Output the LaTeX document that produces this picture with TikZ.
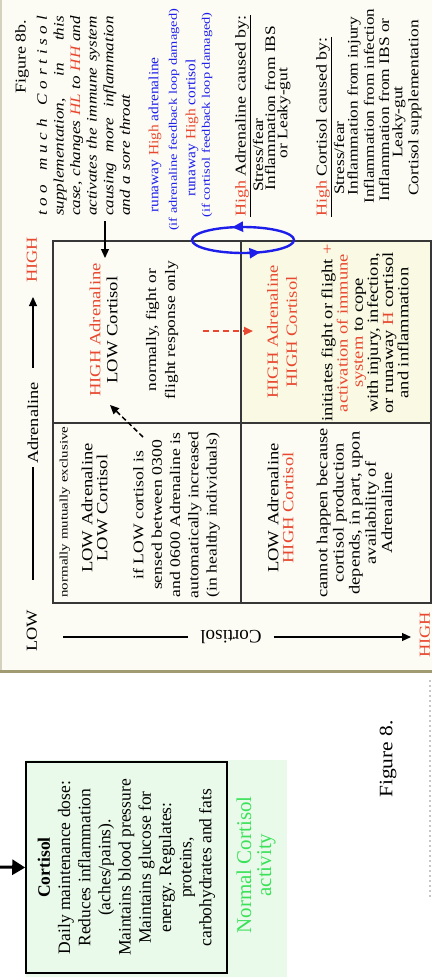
\documentclass[tikz,border=0pt]{standalone}
\usepackage{fontspec}
\setmainfont{Liberation Serif}
\usetikzlibrary{arrows.meta,decorations.markings}
\setlength{\parindent}{0pt}
\definecolor{hred}{RGB}{232,72,48}
\definecolor{rblue}{RGB}{30,30,235}
\definecolor{ngreen}{RGB}{60,225,90}
\definecolor{cream}{RGB}{252,252,244}
\definecolor{cellyel}{RGB}{250,250,228}
\definecolor{lgreen}{RGB}{234,250,234}
\definecolor{olivebd}{RGB}{160,155,112}
\definecolor{tabline}{RGB}{55,55,55}
\begin{document}
\begin{tikzpicture}[x=1pt,y=1pt,
  rt/.style={rotate=90, xscale=#1, inner sep=0pt, align=center},
  fs/.style 2 args={font=\fontsize{#1}{#2}\selectfont},
  grid/.style={draw=tabline, line width=1.4pt},
  arr/.style={-{Triangle[length=9pt,width=8pt]}},
]
\useasboundingbox (0,0) rectangle (432,-980);
\fill[white] (0,0) rectangle (432,-980);
% ---------- panel 8b ----------
\fill[cream] (0,0) rectangle (432,-671);
\draw[olivebd, line width=3pt] (0,-671.5) -- (432,-671.5);
\draw[olivebd!45, line width=1.5pt] (0.75,0) -- (0.75,-670);

% table
\fill[cellyel] (241,-241) rectangle (431,-423);
\draw[grid] (53,-241) rectangle (431,-603);
\draw[grid] (241,-241) -- (241,-603);
\draw[grid] (53,-423) -- (431,-423);

% Figure 8b caption
\node[rt=1.2, fs={15}{17}] (fig8b) at (22,-57) {Figure 8b.};
\node[rt=1.19, fs={14.4}{16.6}, text width=168pt, align=left] (cap) at (83.5,-116) {\itshape
\hbox to 168pt{t\hfill o\hfill o\hfill\hfill\hfill m\hfill u\hfill c\hfill h\hfill\hfill\hfill C\hfill o\hfill r\hfill t\hfill i\hfill s\hfill o\hfill l}
\hbox to 168pt{supplementation,\hfill in\hfill this}
\hbox to 168pt{case,\hfill changes\hfill \textcolor{hred}{HL}\hfill to\hfill \textcolor{hred}{HH}\hfill and}
\hbox to 168pt{activates\hfill the\hfill immune\hfill system}
\hbox to 168pt{causing\hfill more\hfill inflammation}
\hbox to 168pt{and a sore throat\hfill}};

% blue runaway texts
\node[rt=1.1, fs={14}{16}, text=rblue] (ra) at (155,-135) {runaway \textcolor{hred}{High} adrenaline};
\node[rt=1.25, fs={11.5}{13}, text=rblue] (ran) at (174,-120) {(if adrenaline feedback loop damaged)};
\node[rt=1.1, fs={14}{16}, text=rblue] (rc) at (192,-128) {runaway \textcolor{hred}{High} cortisol};
\node[rt=1.25, fs={11.5}{13}, text=rblue] (rcn) at (207,-115) {(if cortisol feedback loop damaged)};

% caused-by lists
\node[rt=1.2, fs={15}{17}, anchor=west] (hadr) at (243,-217) {\underline{\textcolor{hred}{High} Adrenaline caused by:}};
\node[rt=1.2, fs={14.5}{16}] (a1t) at (258,-155) {Stress/fear};
\node[rt=1.2, fs={14.5}{16}] (a2t) at (270,-108) {Inflammation from IBS};
\node[rt=1.2, fs={14.5}{16}] (a3t) at (284,-113) {or Leaky-gut};

\node[rt=1.2, fs={15}{17}, anchor=west] (hcor) at (324,-217) {\underline{\textcolor{hred}{High} Cortisol caused by:}};
\node[rt=1.2, fs={14.5}{16}] (c1t) at (339,-158) {Stress/fear};
\node[rt=1.2, fs={14.5}{16}] (c2t) at (354,-106) {Inflammation from injury};
\node[rt=1.2, fs={14.2}{16}] (c3t) at (369,-106) {Inflammation from infection};
\node[rt=1.2, fs={14.5}{16}] (c4t) at (384,-110) {Inflammation from IBS or};
\node[rt=1.2, fs={14.5}{16}] (c5t) at (399,-122) {Leaky-gut};
\node[rt=1.2, fs={14.5}{16}] (c6t) at (415,-108) {Cortisol supplementation};

% axes
\node[rt=1.2, fs={15.3}{17}] (lowA) at (32,-631) {LOW};
\node[rt=1.2, fs={15.3}{17}] (adr) at (33,-423) {Adrenaline};
\node[rt=1.2, fs={15.3}{17}, text=hred] (highA) at (32,-260) {HIGH};
\coordinate (ax1) at (33,-580);
\coordinate (ax2) at (33,-297);
\draw[line width=1.1pt, shorten >=3pt] (ax1) -- (adr.west);
\draw[line width=1.1pt, arr, shorten <=14pt] (adr.east) -- (ax2);

\node[rotate=180, inner sep=0pt, fs={19}{21}] (cort) at (231,-637) {Cortisol};
\node[rt=1.2, fs={15.3}{17}, text=hred] (highC) at (425,-635) {HIGH};
\coordinate (cx1) at (63,-637);
\coordinate (cx2) at (411,-637);
\draw[line width=1.1pt, shorten >=12pt] (cx1) -- (cort.east);
\draw[line width=1.1pt, arr, shorten <=12pt] (cort.west) -- (cx2);

% cell texts
\node[rt=1.2, fs={15.5}{17}] (tl1) at (103.5,-330) {\textcolor{hred}{HIGH Adrenaline}\\LOW Cortisol};
\node[rt=1.2, fs={14.5}{19}] (tl2) at (162,-330) {normally, fight or\\flight response only};

\node[rt=1.2, fs={15.5}{19}, text=hred] (tr1) at (282,-332) {HIGH Adrenaline\\HIGH Cortisol};
\node[rt=1.2, fs={15.4}{15.2}] (tr2) at (365,-333) {initiates fight or flight \textcolor{hred}{+}\\\textcolor{hred}{activation of immune}\\\textcolor{hred}{system} to cope\\with injury, infection,\\or runaway \textcolor{hred}{H} cortisol\\and inflammation};

\node[rt=1.3, fs={11.5}{13}] (bl0) at (65,-512) {normally mutually exclusive};
\node[rt=1.2, fs={15.5}{15}] (bl1) at (94.5,-508) {LOW Adrenaline\\LOW Cortisol};
\node[rt=1.2, fs={14.7}{18.3}] (bl2) at (176.5,-515) {if LOW cortisol is\\sensed between 0300\\and 0600 Adrenaline is\\automatically increased\\(in healthy individuals)};

\node[rt=1.2, fs={15.5}{15}] (br1) at (280.5,-508) {LOW Adrenaline\\\textcolor{hred}{HIGH Cortisol}};
\node[rt=1.2, fs={15.3}{16.2}] (br2) at (354.5,-513) {cannot happen because\\cortisol production\\depends, in part, upon\\availability of\\Adrenaline};

% arrows in the table
\coordinate (capout) at (105,-221);
\coordinate (tlin) at (105,-258);
\draw[line width=1.3pt, arr] (capout) -- (tlin);

\coordinate (dsh1) at (143,-437);
\coordinate (dsh2) at (110,-405);
\draw[line width=1.5pt, dash pattern=on 5pt off 3pt, arr] (dsh1) -- (dsh2);

\coordinate (rd1) at (203,-331);
\coordinate (rd2) at (253,-331);
\draw[hred, line width=2.2pt, dash pattern=on 6pt off 4pt, arr] (rd1) -- (rd2);

% blue loop
\draw[rblue, line width=2.4pt, postaction={decorate},
  decoration={markings,
    mark=at position 0.30 with {\arrow{Triangle[length=11pt,width=10pt]}},
    mark=at position 0.83 with {\arrow{Triangle[length=11pt,width=10pt]}}}]
  (243,-240) ellipse [x radius=51pt, y radius=13pt];

% ---------- Figure 8 ----------
\fill[lgreen] (26,-760) rectangle (287,-977);
\node[draw=black, line width=1.6pt, fill=lgreen, minimum width=201pt, minimum height=211pt, inner sep=0pt] (cbox) at (126.5,-867.5) {};
\node[rt=1, fs={17.5}{20.2}] (ctext) at (cbox.center) {\textbf{Cortisol}\\Daily maintenance dose:\\Reduces inflammation\\(aches/pains).\\Maintains blood pressure\\Maintains glucose for\\energy. Regulates:\\proteins,\\carbohydrates and fats};
\coordinate (ain) at (0,-867);
\draw[line width=3pt, -{Triangle[length=13pt,width=15pt]}] (ain) -- (cbox.west);
\node[rt=1, fs={21}{20}, text=ngreen] (normal) at (256,-865) {Normal Cortisol\\activity};
\node[rt=1.13, fs={19}{21}] (fig8) at (388,-759) {Figure 8.};
\draw[black!22, line width=1.5pt, dash pattern=on 2pt off 3pt] (430,-680) -- (430,-897);
\end{tikzpicture}
\end{document}
